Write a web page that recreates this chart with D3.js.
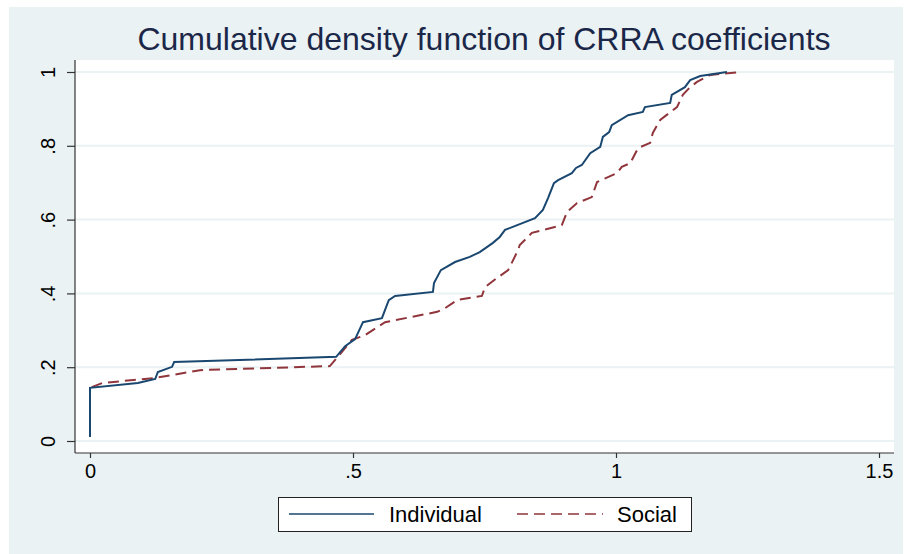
<!DOCTYPE html>
<meta charset="utf-8">
<style>
body { margin: 0; background: #fff; }
text { font-family: "Liberation Sans", Arial, sans-serif; fill: #000; }
.grid line { stroke: #eaf2f3; stroke-width: 2; }
.axis path, .axis line { stroke: #333; stroke-width: 1.2; }
</style>
<svg width="906" height="554"></svg>
<script src="https://d3js.org/d3.v7.min.js"></script>
<script>
// CRRA coefficient (x) and cumulative share (y)
var indivX = [0, 0, 0.091, 0.124, 0.129, 0.156, 0.160, 0.468, 0.485, 0.504, 0.519, 0.555, 0.568, 0.580,
  0.652, 0.654, 0.667, 0.694, 0.722, 0.741, 0.766, 0.779, 0.789, 0.846, 0.861, 0.871, 0.882, 0.890,
  0.916, 0.924, 0.935, 0.951, 0.970, 0.975, 0.987, 0.992, 1.023, 1.051, 1.055, 1.103, 1.106, 1.131,
  1.141, 1.160, 1.211];
var indivY = [0.011, 0.144, 0.157, 0.168, 0.187, 0.201, 0.214, 0.228, 0.257, 0.276, 0.322, 0.333, 0.382, 0.393,
  0.404, 0.428, 0.463, 0.485, 0.499, 0.512, 0.537, 0.553, 0.572, 0.604, 0.626, 0.659, 0.699, 0.707,
  0.726, 0.740, 0.748, 0.780, 0.797, 0.824, 0.837, 0.856, 0.883, 0.892, 0.905, 0.916, 0.938, 0.959,
  0.978, 0.989, 1.0];

var socialX = [0, 0, 0.023, 0.124, 0.209, 0.456, 0.471, 0.498, 0.523, 0.561, 0.660, 0.675, 0.698, 0.745,
  0.751, 0.774, 0.795, 0.814, 0.817, 0.840, 0.897, 0.907, 0.926, 0.954, 0.964, 1.002, 1.011, 1.027,
  1.042, 1.065, 1.070, 1.084, 1.116, 1.127, 1.141, 1.154, 1.179, 1.236];
var socialY = [0.011, 0.144, 0.157, 0.171, 0.192, 0.203, 0.228, 0.274, 0.287, 0.322, 0.350, 0.360, 0.382, 0.393,
  0.417, 0.442, 0.463, 0.518, 0.531, 0.564, 0.585, 0.621, 0.645, 0.661, 0.702, 0.726, 0.743, 0.753,
  0.794, 0.808, 0.835, 0.870, 0.905, 0.938, 0.959, 0.973, 0.992, 1.0];

var xTicks = [0, 0.5, 1, 1.5];
var xTickLabels = ["0", ".5", "1", "1.5"];
var yTicks = [0, 0.2, 0.4, 0.6, 0.8, 1];
var yTickLabels = ["0", ".2", ".4", ".6", ".8", "1"];
var seriesNames = ["Individual", "Social"];
var title = "Cumulative density function of CRRA coefficients";

var svg = d3.select("svg");
var plot = {left: 75, top: 60, right: 894, bottom: 453};

var x = d3.scaleLinear().domain([0, 1.5]).range([90, 879]);
var y = d3.scaleLinear().domain([0, 1]).range([441, 72]);

// outer graph region
svg.append("rect")
    .attr("x", 9).attr("y", 7)
    .attr("width", 894).attr("height", 547)
    .attr("fill", "#eaf2f3");

svg.append("rect")
    .attr("x", plot.left).attr("y", plot.top)
    .attr("width", plot.right - plot.left).attr("height", plot.bottom - plot.top)
    .attr("fill", "#fff");

svg.append("g")
    .attr("class", "grid")
  .selectAll("line")
    .data(yTicks)
  .enter().append("line")
    .attr("x1", plot.left).attr("x2", plot.right)
    .attr("y1", function(d) { return y(d); })
    .attr("y2", function(d) { return y(d); });

svg.append("text")
    .attr("x", 484).attr("y", 50)
    .attr("text-anchor", "middle")
    .style("font-size", "32px")
    .style("fill", "#1b2748")
    .text(title);

// axes
var xAxis = d3.axisBottom(x)
    .tickValues(xTicks)
    .tickSize(5)
    .tickSizeOuter(0)
    .tickFormat(function(d, i) { return xTickLabels[i]; });

var gx = svg.append("g")
    .attr("class", "axis")
    .attr("transform", "translate(0," + plot.bottom + ")")
    .call(xAxis);
gx.select(".domain").attr("d", "M" + plot.left + ",0H" + plot.right);
gx.selectAll("text")
    .attr("y", 25).attr("dy", 0)
    .style("font-size", "20px");

var yAxis = d3.axisLeft(y)
    .tickValues(yTicks)
    .tickSize(8)
    .tickSizeOuter(0)
    .tickFormat(function(d, i) { return yTickLabels[i]; });

var gy = svg.append("g")
    .attr("class", "axis")
    .attr("transform", "translate(" + plot.left + ",0)")
    .call(yAxis);
gy.select(".domain").attr("d", "M0," + plot.top + "V" + plot.bottom);
gy.selectAll("text")
    .attr("x", 0).attr("dy", 0)
    .attr("transform", "translate(-20,0) rotate(-90)")
    .attr("text-anchor", "middle")
    .style("font-size", "20px");

// series
var line = d3.line()
    .x(function(d) { return x(d[0]); })
    .y(function(d) { return y(d[1]); });

var indiv = d3.zip(indivX, indivY);
var social = d3.zip(socialX, socialY);

svg.append("path")
    .datum(social)
    .attr("fill", "none")
    .attr("stroke", "#90353b")
    .attr("stroke-width", 2)
    .attr("stroke-dasharray", "11,6")
    .attr("d", line);

svg.append("path")
    .datum(indiv)
    .attr("fill", "none")
    .attr("stroke", "#1a476f")
    .attr("stroke-width", 2)
    .attr("d", line);

// legend
var legend = svg.append("g");
legend.append("rect")
    .attr("x", 278.5).attr("y", 497.5)
    .attr("width", 413).attr("height", 34)
    .attr("fill", "#fff")
    .attr("stroke", "#222")
    .attr("stroke-width", 1);

legend.append("line")
    .attr("x1", 289).attr("x2", 374).attr("y1", 514).attr("y2", 514)
    .attr("stroke", "#1a476f").attr("stroke-width", 1.5);
legend.append("text")
    .attr("x", 389).attr("y", 522)
    .style("font-size", "22px")
    .text(seriesNames[0]);

legend.append("line")
    .attr("x1", 517).attr("x2", 603).attr("y1", 514).attr("y2", 514)
    .attr("stroke", "#90353b").attr("stroke-width", 1.5)
    .attr("stroke-dasharray", "11,6");
legend.append("text")
    .attr("x", 617).attr("y", 522)
    .style("font-size", "22px")
    .text(seriesNames[1]);
</script>
